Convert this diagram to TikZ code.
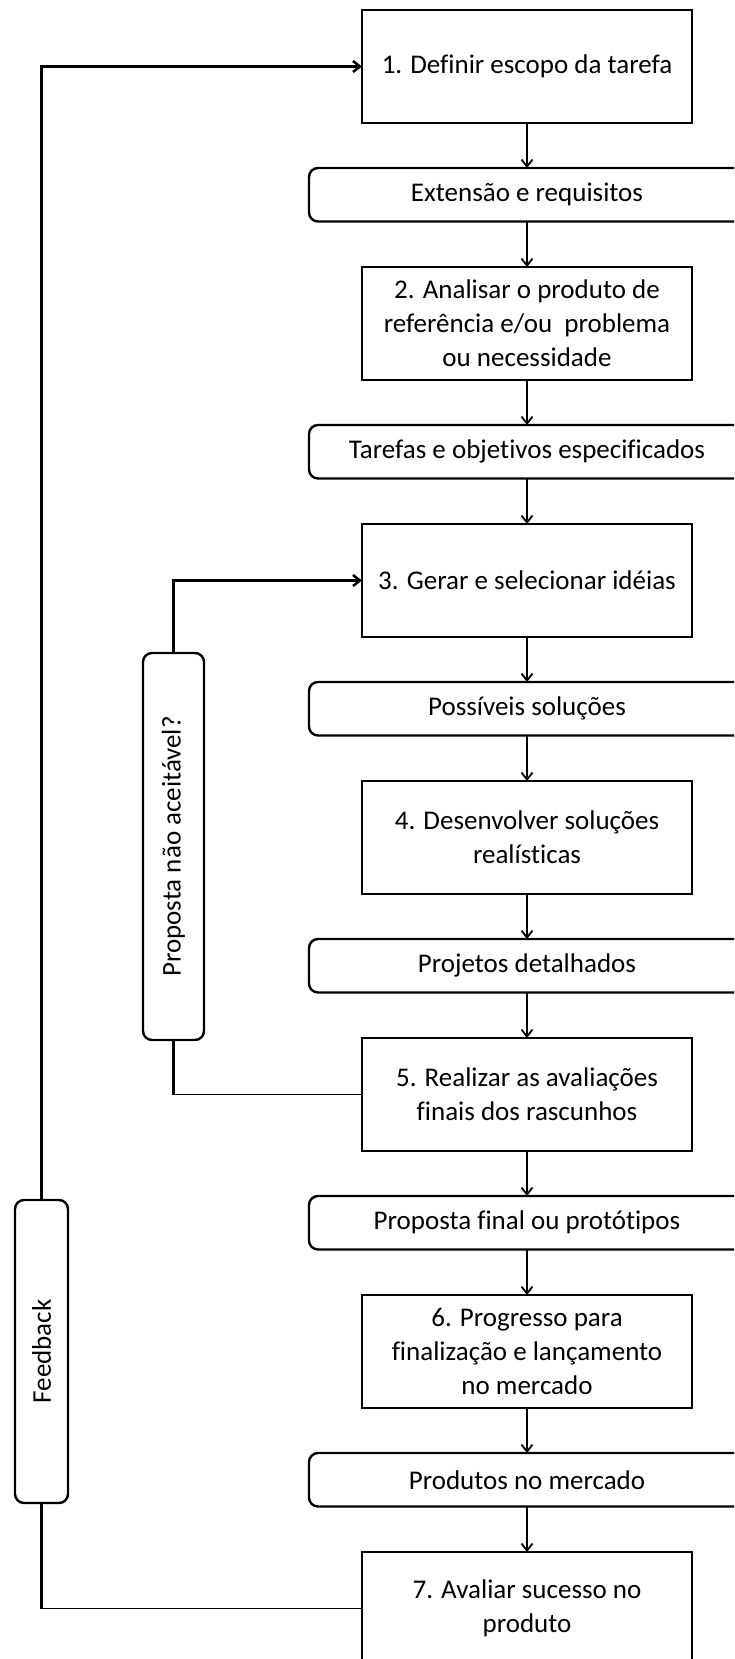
\documentclass[tikz,border=0pt]{standalone}
\usepackage{fontspec}
\setmainfont{Carlito}[Ligatures=NoCommon]
\usetikzlibrary{arrows.meta}
\begin{document}
\begin{tikzpicture}[x=1pt,y=-1pt,
  txt/.style={font=\fontsize{27}{34}\selectfont},
  stepbox/.style={txt, draw, line width=2.6pt, minimum width=330pt,
    minimum height=113pt, align=center, inner sep=0pt, outer sep=0pt},
  outbox/.style={txt, draw, line width=2.4pt, rounded corners=9pt,
    minimum width=436pt, minimum height=53.5pt, inner sep=0pt, outer sep=0pt},
  sidebox/.style={txt, draw, line width=2.4pt, rounded corners=9pt,
    inner sep=0pt, outer sep=0pt, rotate=90},
  flow/.style={line width=1.8pt, -{Straight Barb[length=7pt,width=11pt]}},
  loopline/.style={line width=2.5pt},
  thinline/.style={line width=1.4pt},
  looparrow/.style={line width=2.5pt, -{Straight Barb[length=7pt,width=11pt]}}
]
\useasboundingbox (0,0) rectangle (734,1659);
\clip (0,0) rectangle (734,1659);

% main chain of steps and their outcomes
\node[stepbox] (b1) at (527,66.5)   {1. Definir escopo da tarefa};
\node[outbox]  (r1) at (527,194.75) {Extensão e requisitos};
\node[stepbox] (b2) at (527,323.5)  {2. Analisar o produto de\\referência e/ou\ \ problema\\ou necessidade};
\node[outbox]  (r2) at (527,451.75) {Tarefas e objetivos especificados};
\node[stepbox] (b3) at (527,580.5)  {3. Gerar e selecionar idéias};
\node[outbox]  (r3) at (527,708.75) {Possíveis soluções};
\node[stepbox] (b4) at (527,837.5)  {4. Desenvolver soluções\\realísticas};
\node[outbox]  (r4) at (527,965.75) {Projetos detalhados};
\node[stepbox] (b5) at (527,1094.5) {5. Realizar as avaliações\\finais dos rascunhos};
\node[outbox]  (r5) at (527,1222.75) {Proposta final ou protótipos};
\node[stepbox] (b6) at (527,1351.5) {6. Progresso para\\finalização e lançamento\\no mercado};
\node[outbox]  (r6) at (527,1479.75) {Produtos no mercado};
\node[stepbox] (b7) at (527,1608.5) {7. Avaliar sucesso no\\produto};

% loop labels on the left
\node[sidebox, minimum width=387pt, minimum height=61pt] (pn) at (173.5,846.5) {Proposta não aceitável?};
\node[sidebox, minimum width=303pt, minimum height=53pt] (fb) at (41.5,1351.5) {Feedback};

% downward flow
\foreach \a/\b in {b1/r1, r1/b2, b2/r2, r2/b3, b3/r3, r3/b4, b4/r4, r4/b5, b5/r5, r5/b6, b6/r6, r6/b7}
  \draw[flow] (\a.south) -- (\b.north);

% inner loop back to step 3
\coordinate (c5) at (b5.west -| pn.west);
\draw[thinline] (b5.west) -- (c5);
\draw[loopline] (c5) -- (pn.west);
\draw[looparrow] (pn.east) |- (b3.west);

% feedback loop back to step 1
\coordinate (c7) at (b7.west -| fb.west);
\draw[thinline] (b7.west) -- (c7);
\draw[loopline] (c7) -- (fb.west);
\draw[looparrow] (fb.east) |- (b1.west);
\end{tikzpicture}
\end{document}
